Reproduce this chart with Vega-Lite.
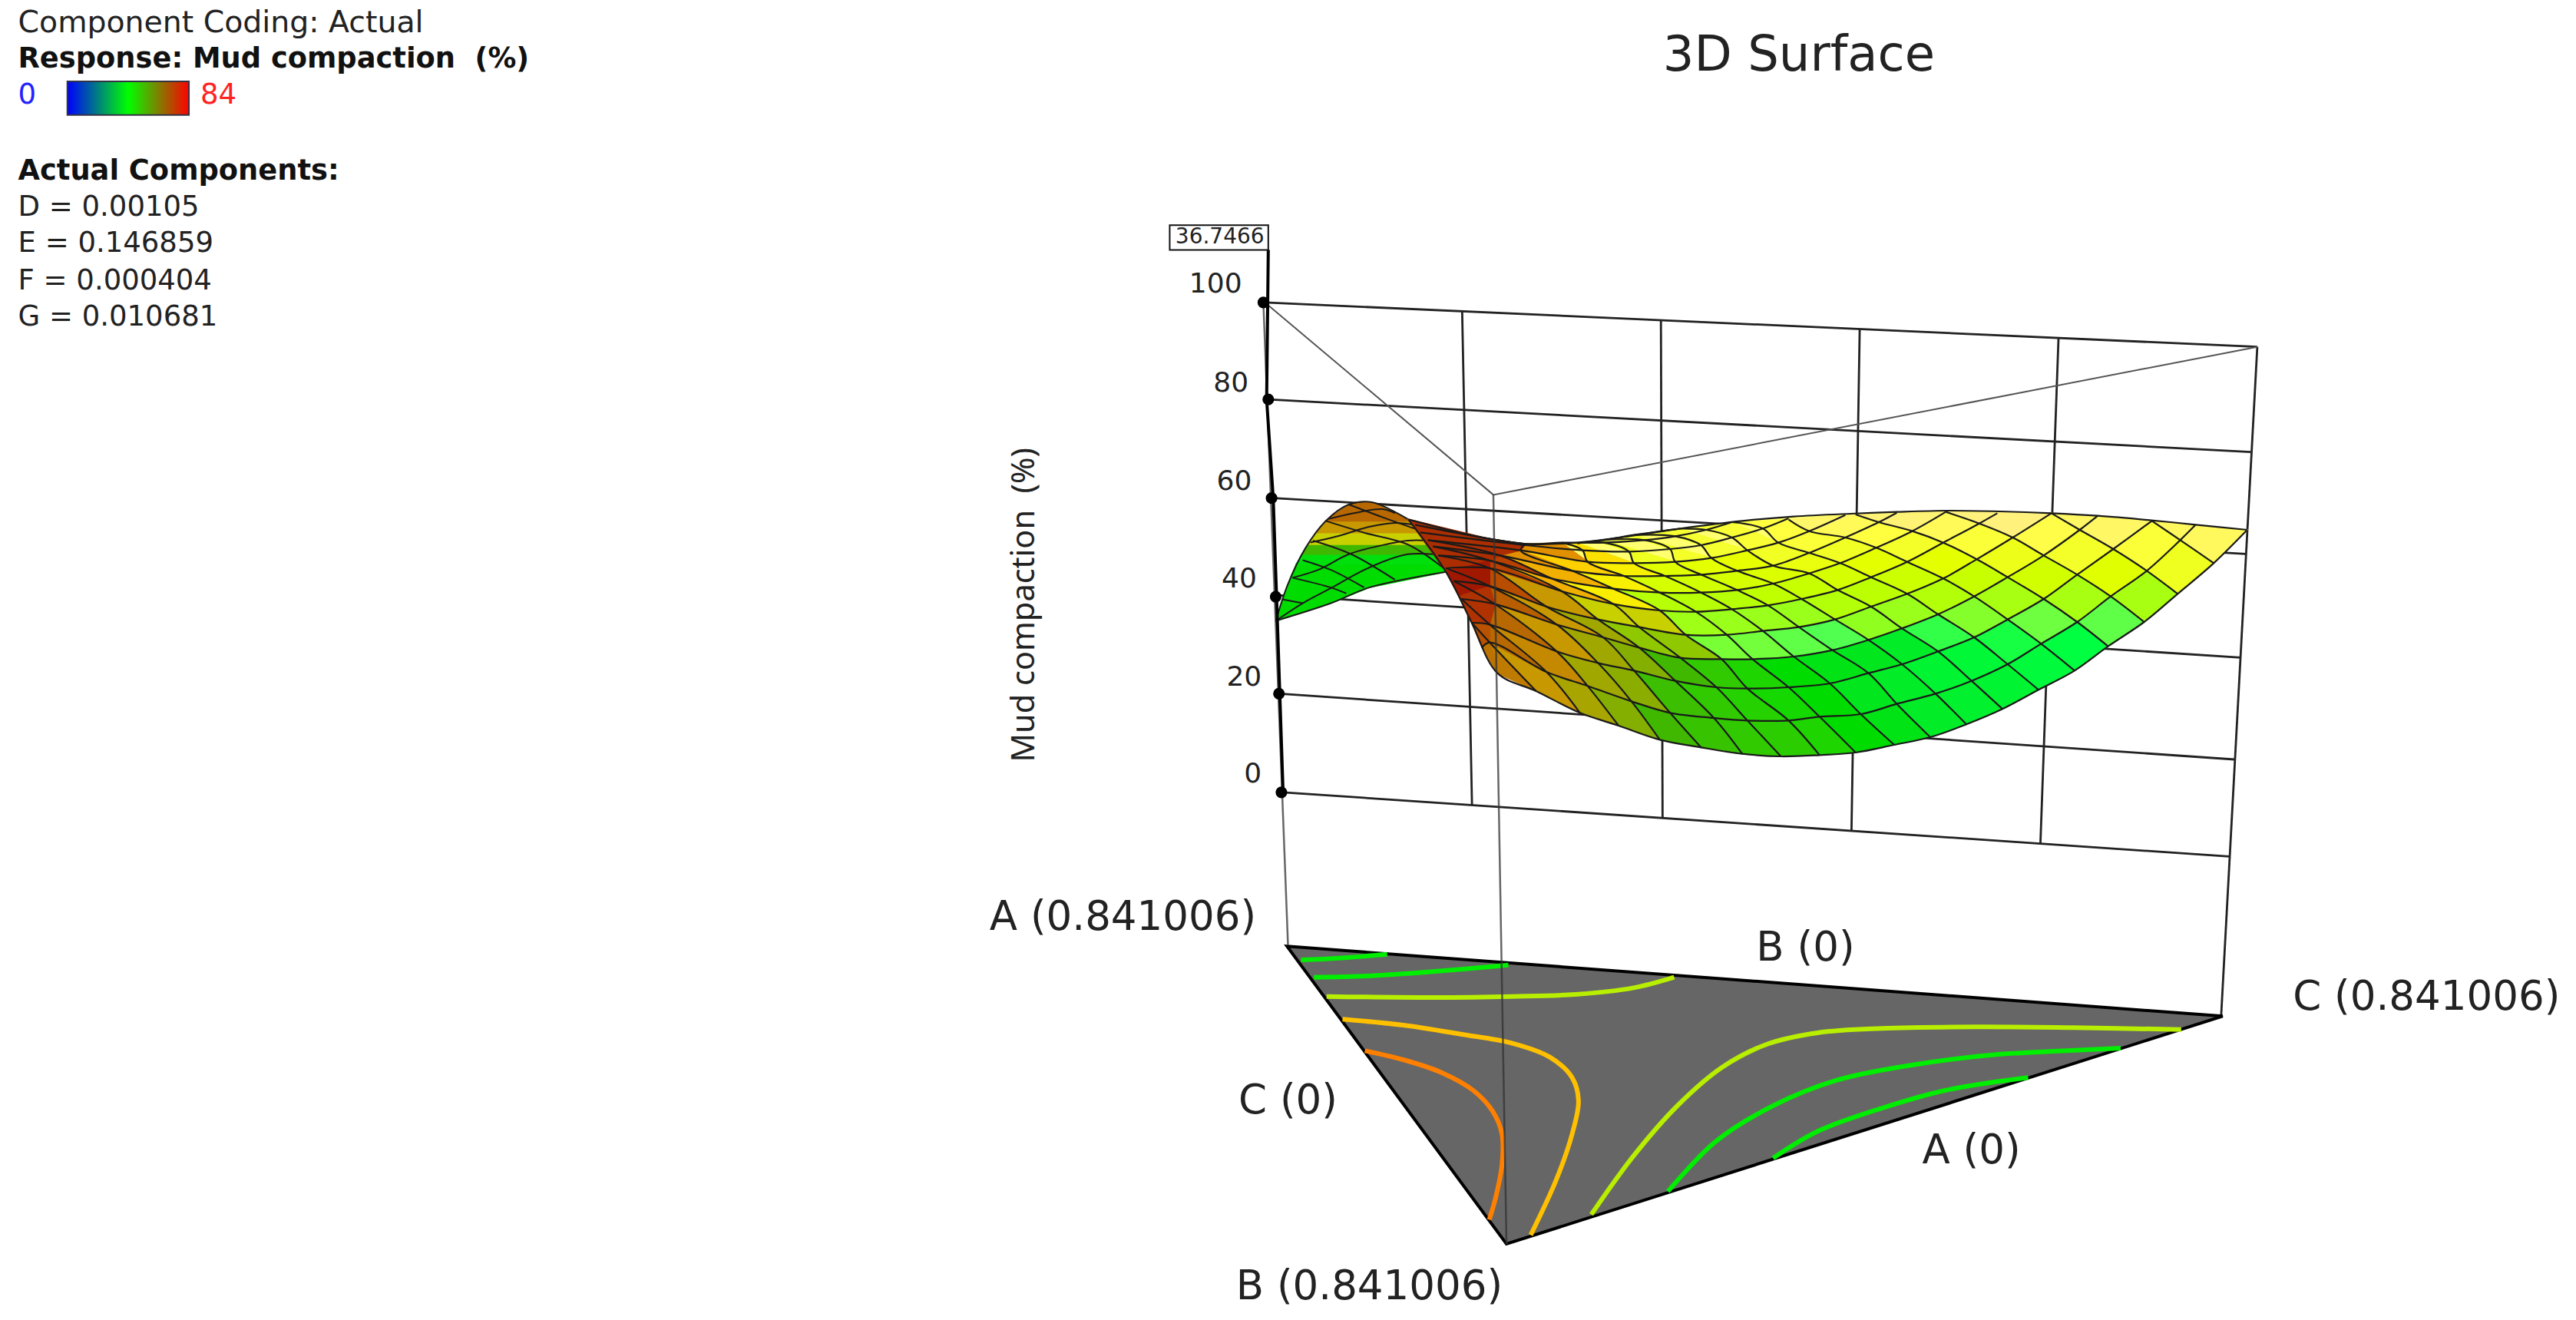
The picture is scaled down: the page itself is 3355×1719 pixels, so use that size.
{"$schema":"https://vega.github.io/schema/vega-lite/v6.json","width":3355,"height":1719,"padding":0,"autosize":{"type":"fit","contains":"padding"},"background":"white","config":{"view":{"stroke":null}},
"datasets":{
"quads":[
{"q":103,"x":1530,"y":270,"z":0.6},{"q":103,"x":1345,"y":235,"z":0.6},{"q":103,"x":1400,"y":310,"z":0.6},{"q":103,"x":1465,"y":400,"z":0.6},
{"q":100,"x":1465,"y":400,"z":1.7},{"q":100,"x":1400,"y":310,"z":1.7},{"q":100,"x":1335,"y":430,"z":1.7},{"q":100,"x":1395,"y":520,"z":1.7},
{"q":101,"x":1400,"y":310,"z":1.2},{"q":101,"x":1345,"y":235,"z":1.2},{"q":101,"x":1270,"y":345,"z":1.2},{"q":101,"x":1335,"y":430,"z":1.2},
{"q":102,"x":1345,"y":235,"z":0.5},{"q":102,"x":1150,"y":205,"z":0.5},{"q":102,"x":1205,"y":270,"z":0.5},{"q":102,"x":1270,"y":345,"z":0.5},
{"q":200,"x":1395,"y":520,"z":3.5},{"q":200,"x":1335,"y":430,"z":3.5},{"q":200,"x":1265,"y":530,"z":3.5},{"q":200,"x":1330,"y":630,"z":3.5},
{"q":201,"x":1335,"y":430,"z":2.2},{"q":201,"x":1270,"y":345,"z":2.2},{"q":201,"x":1200,"y":445,"z":2.2},{"q":201,"x":1265,"y":530,"z":2.2},
{"q":202,"x":1270,"y":345,"z":1.5},{"q":202,"x":1205,"y":270,"z":1.5},{"q":202,"x":1135,"y":370,"z":1.5},{"q":202,"x":1200,"y":445,"z":1.5},
{"q":203,"x":1205,"y":270,"z":0.9},{"q":203,"x":1150,"y":205,"z":0.9},{"q":203,"x":1075,"y":300,"z":0.9},{"q":203,"x":1135,"y":370,"z":0.9},
{"q":204,"x":1150,"y":205,"z":0.1},{"q":204,"x":945,"y":200,"z":0.1},{"q":204,"x":1010,"y":245,"z":0.1},{"q":204,"x":1075,"y":300,"z":0.1},
{"q":300,"x":1330,"y":630,"z":4.8},{"q":300,"x":1265,"y":530,"z":4.8},{"q":300,"x":1200,"y":630,"z":4.8},{"q":300,"x":1260,"y":725,"z":4.8},
{"q":301,"x":1265,"y":530,"z":3.5},{"q":301,"x":1200,"y":445,"z":3.5},{"q":301,"x":1135,"y":540,"z":3.5},{"q":301,"x":1200,"y":630,"z":3.5},
{"q":302,"x":1200,"y":445,"z":2.6},{"q":302,"x":1135,"y":370,"z":2.6},{"q":302,"x":1065,"y":455,"z":2.6},{"q":302,"x":1135,"y":540,"z":2.6},
{"q":303,"x":1135,"y":370,"z":1.8},{"q":303,"x":1075,"y":300,"z":1.8},{"q":303,"x":1005,"y":385,"z":1.8},{"q":303,"x":1065,"y":455,"z":1.8},
{"q":304,"x":1075,"y":300,"z":1.2},{"q":304,"x":1010,"y":245,"z":1.2},{"q":304,"x":940,"y":320,"z":1.2},{"q":304,"x":1005,"y":385,"z":1.2},
{"q":305,"x":1010,"y":245,"z":0.7},{"q":305,"x":945,"y":200,"z":0.7},{"q":305,"x":880,"y":275,"z":0.7},{"q":305,"x":940,"y":320,"z":0.7},
{"q":306,"x":945,"y":200,"z":0.2},{"q":306,"x":770,"y":210,"z":0.2},{"q":306,"x":815,"y":240,"z":0.2},{"q":306,"x":880,"y":275,"z":0.2},
{"q":400,"x":1260,"y":725,"z":6},{"q":400,"x":1200,"y":630,"z":6},{"q":400,"x":1130,"y":715,"z":6},{"q":400,"x":1195,"y":820,"z":6},
{"q":401,"x":1200,"y":630,"z":4.6},{"q":401,"x":1135,"y":540,"z":4.6},{"q":401,"x":1065,"y":620,"z":4.6},{"q":401,"x":1130,"y":715,"z":4.6},
{"q":402,"x":1135,"y":540,"z":3.5},{"q":402,"x":1065,"y":455,"z":3.5},{"q":402,"x":1000,"y":530,"z":3.5},{"q":402,"x":1065,"y":620,"z":3.5},
{"q":403,"x":1065,"y":455,"z":2.8},{"q":403,"x":1005,"y":385,"z":2.8},{"q":403,"x":940,"y":460,"z":2.8},{"q":403,"x":1000,"y":530,"z":2.8},
{"q":404,"x":1005,"y":385,"z":2.1},{"q":404,"x":940,"y":320,"z":2.1},{"q":404,"x":870,"y":395,"z":2.1},{"q":404,"x":940,"y":460,"z":2.1},
{"q":405,"x":940,"y":320,"z":1.5},{"q":405,"x":880,"y":275,"z":1.5},{"q":405,"x":810,"y":340,"z":1.5},{"q":405,"x":870,"y":395,"z":1.5},
{"q":406,"x":880,"y":275,"z":1},{"q":406,"x":815,"y":240,"z":1},{"q":406,"x":750,"y":300,"z":1},{"q":406,"x":810,"y":340,"z":1},
{"q":407,"x":815,"y":240,"z":0.7},{"q":407,"x":770,"y":210,"z":0.7},{"q":407,"x":680,"y":275,"z":0.7},{"q":407,"x":750,"y":300,"z":0.7},
{"q":408,"x":770,"y":210,"z":0.4},{"q":408,"x":640,"y":230,"z":0.4},{"q":408,"x":680,"y":275,"z":0.4},
{"q":500,"x":1195,"y":820,"z":6.1},{"q":500,"x":1130,"y":715,"z":6.1},{"q":500,"x":1065,"y":795,"z":6.1},{"q":500,"x":1125,"y":895,"z":6.1},
{"q":501,"x":1130,"y":715,"z":5.9},{"q":501,"x":1065,"y":620,"z":5.9},{"q":501,"x":1000,"y":690,"z":5.9},{"q":501,"x":1065,"y":795,"z":5.9},
{"q":502,"x":1065,"y":620,"z":4.2},{"q":502,"x":1000,"y":530,"z":4.2},{"q":502,"x":930,"y":600,"z":4.2},{"q":502,"x":1000,"y":690,"z":4.2},
{"q":503,"x":1000,"y":530,"z":3.3},{"q":503,"x":940,"y":460,"z":3.3},{"q":503,"x":870,"y":520,"z":3.3},{"q":503,"x":930,"y":600,"z":3.3},
{"q":504,"x":940,"y":460,"z":2.7},{"q":504,"x":870,"y":395,"z":2.7},{"q":504,"x":800,"y":455,"z":2.7},{"q":504,"x":870,"y":520,"z":2.7},
{"q":505,"x":870,"y":395,"z":2.1},{"q":505,"x":810,"y":340,"z":2.1},{"q":505,"x":740,"y":400,"z":2.1},{"q":505,"x":800,"y":455,"z":2.1},
{"q":506,"x":810,"y":340,"z":1.6},{"q":506,"x":750,"y":300,"z":1.6},{"q":506,"x":680,"y":360,"z":1.6},{"q":506,"x":740,"y":400,"z":1.6},
{"q":507,"x":750,"y":300,"z":1.2},{"q":507,"x":680,"y":275,"z":1.2},{"q":507,"x":620,"y":320,"z":1.2},{"q":507,"x":680,"y":360,"z":1.2},
{"q":508,"x":680,"y":275,"z":1},{"q":508,"x":640,"y":230,"z":1},{"q":508,"x":530,"y":240,"z":1},{"q":508,"x":590,"y":265,"z":1},{"q":508,"x":620,"y":320,"z":1},
{"q":600,"x":1125,"y":895,"z":6.3},{"q":600,"x":1065,"y":795,"z":6.3},{"q":600,"x":995,"y":860,"z":6.3},{"q":600,"x":1055,"y":970,"z":6.3},
{"q":601,"x":1065,"y":795,"z":6.2},{"q":601,"x":1000,"y":690,"z":6.2},{"q":601,"x":930,"y":745,"z":6.2},{"q":601,"x":995,"y":860,"z":6.2},
{"q":602,"x":1000,"y":690,"z":5.6},{"q":602,"x":930,"y":600,"z":5.6},{"q":602,"x":860,"y":655,"z":5.6},{"q":602,"x":930,"y":745,"z":5.6},
{"q":603,"x":930,"y":600,"z":3.8},{"q":603,"x":870,"y":520,"z":3.8},{"q":603,"x":800,"y":570,"z":3.8},{"q":603,"x":860,"y":655,"z":3.8},
{"q":604,"x":870,"y":520,"z":3.1},{"q":604,"x":800,"y":455,"z":3.1},{"q":604,"x":735,"y":505,"z":3.1},{"q":604,"x":800,"y":570,"z":3.1},
{"q":605,"x":800,"y":455,"z":2.5},{"q":605,"x":740,"y":400,"z":2.5},{"q":605,"x":680,"y":440,"z":2.5},{"q":605,"x":735,"y":505,"z":2.5},
{"q":606,"x":740,"y":400,"z":1.9},{"q":606,"x":680,"y":360,"z":1.9},{"q":606,"x":610,"y":410,"z":1.9},{"q":606,"x":680,"y":440,"z":1.9},
{"q":607,"x":680,"y":360,"z":1.6},{"q":607,"x":620,"y":320,"z":1.6},{"q":607,"x":560,"y":350,"z":1.6},{"q":607,"x":610,"y":410,"z":1.6},
{"q":608,"x":620,"y":320,"z":1.3},{"q":608,"x":530,"y":240,"z":1.3},{"q":608,"x":430,"y":265,"z":1.3},{"q":608,"x":480,"y":270,"z":1.3},{"q":608,"x":530,"y":300,"z":1.3},{"q":608,"x":560,"y":350,"z":1.3},
{"q":700,"x":1055,"y":970,"z":6.4},{"q":700,"x":995,"y":860,"z":6.4},{"q":700,"x":925,"y":910,"z":6.4},{"q":700,"x":985,"y":1030,"z":6.4},
{"q":701,"x":995,"y":860,"z":6.3},{"q":701,"x":930,"y":745,"z":6.3},{"q":701,"x":860,"y":795,"z":6.3},{"q":701,"x":925,"y":910,"z":6.3},
{"q":702,"x":930,"y":745,"z":6.5},{"q":702,"x":860,"y":655,"z":6.5},{"q":702,"x":795,"y":700,"z":6.5},{"q":702,"x":860,"y":795,"z":6.5},
{"q":703,"x":860,"y":655,"z":4},{"q":703,"x":800,"y":570,"z":4},{"q":703,"x":730,"y":620,"z":4},{"q":703,"x":795,"y":700,"z":4},
{"q":704,"x":800,"y":570,"z":3.3},{"q":704,"x":735,"y":505,"z":3.3},{"q":704,"x":665,"y":540,"z":3.3},{"q":704,"x":730,"y":620,"z":3.3},
{"q":705,"x":735,"y":505,"z":2.8},{"q":705,"x":680,"y":440,"z":2.8},{"q":705,"x":610,"y":480,"z":2.8},{"q":705,"x":665,"y":540,"z":2.8},
{"q":706,"x":680,"y":440,"z":2.3},{"q":706,"x":610,"y":410,"z":2.3},{"q":706,"x":540,"y":430,"z":2.3},{"q":706,"x":610,"y":480,"z":2.3},
{"q":707,"x":610,"y":410,"z":2},{"q":707,"x":560,"y":350,"z":2},{"q":707,"x":490,"y":380,"z":2},{"q":707,"x":540,"y":430,"z":2},
{"q":708,"x":560,"y":350,"z":1.4},{"q":708,"x":430,"y":265,"z":1.4},{"q":708,"x":340,"y":290,"z":1.4},{"q":708,"x":420,"y":295,"z":1.4},{"q":708,"x":470,"y":330,"z":1.4},{"q":708,"x":490,"y":380,"z":1.4},
{"q":800,"x":985,"y":1030,"z":6.5},{"q":800,"x":925,"y":910,"z":6.5},{"q":800,"x":850,"y":950,"z":6.5},{"q":800,"x":915,"y":1080,"z":6.5},
{"q":801,"x":925,"y":910,"z":6.5},{"q":801,"x":860,"y":795,"z":6.5},{"q":801,"x":795,"y":830,"z":6.5},{"q":801,"x":850,"y":950,"z":6.5},
{"q":802,"x":860,"y":795,"z":6.7},{"q":802,"x":795,"y":700,"z":6.7},{"q":802,"x":725,"y":740,"z":6.7},{"q":802,"x":795,"y":830,"z":6.7},
{"q":803,"x":795,"y":700,"z":5},{"q":803,"x":730,"y":620,"z":5},{"q":803,"x":660,"y":650,"z":5},{"q":803,"x":725,"y":740,"z":5},
{"q":804,"x":730,"y":620,"z":3.8},{"q":804,"x":665,"y":540,"z":3.8},{"q":804,"x":600,"y":565,"z":3.8},{"q":804,"x":660,"y":650,"z":3.8},
{"q":805,"x":665,"y":540,"z":3},{"q":805,"x":610,"y":480,"z":3},{"q":805,"x":540,"y":505,"z":3},{"q":805,"x":600,"y":565,"z":3},
{"q":806,"x":610,"y":480,"z":2.5},{"q":806,"x":540,"y":430,"z":2.5},{"q":806,"x":470,"y":445,"z":2.5},{"q":806,"x":540,"y":505,"z":2.5},
{"q":807,"x":540,"y":430,"z":2.1},{"q":807,"x":490,"y":380,"z":2.1},{"q":807,"x":420,"y":395,"z":2.1},{"q":807,"x":470,"y":445,"z":2.1},
{"q":808,"x":490,"y":380,"z":1.5},{"q":808,"x":340,"y":290,"z":1.5},{"q":808,"x":280,"y":310,"z":1.5},{"q":808,"x":360,"y":310,"z":1.5},{"q":808,"x":410,"y":345,"z":1.5},{"q":808,"x":420,"y":395,"z":1.5},
{"q":900,"x":915,"y":1080,"z":6.8},{"q":900,"x":850,"y":950,"z":6.8},{"q":900,"x":780,"y":990,"z":6.8},{"q":900,"x":845,"y":1110,"z":6.8},
{"q":901,"x":850,"y":950,"z":6.7},{"q":901,"x":795,"y":830,"z":6.7},{"q":901,"x":720,"y":870,"z":6.7},{"q":901,"x":780,"y":990,"z":6.7},
{"q":902,"x":795,"y":830,"z":6.8},{"q":902,"x":725,"y":740,"z":6.8},{"q":902,"x":650,"y":765,"z":6.8},{"q":902,"x":720,"y":870,"z":6.8},
{"q":903,"x":725,"y":740,"z":4.8},{"q":903,"x":660,"y":650,"z":4.8},{"q":903,"x":590,"y":665,"z":4.8},{"q":903,"x":650,"y":765,"z":4.8},
{"q":904,"x":660,"y":650,"z":3.8},{"q":904,"x":600,"y":565,"z":3.8},{"q":904,"x":530,"y":580,"z":3.8},{"q":904,"x":590,"y":665,"z":3.8},
{"q":905,"x":600,"y":565,"z":3.2},{"q":905,"x":540,"y":505,"z":3.2},{"q":905,"x":470,"y":515,"z":3.2},{"q":905,"x":530,"y":580,"z":3.2},
{"q":906,"x":540,"y":505,"z":2.6},{"q":906,"x":470,"y":445,"z":2.6},{"q":906,"x":400,"y":450,"z":2.6},{"q":906,"x":470,"y":515,"z":2.6},
{"q":907,"x":470,"y":445,"z":2.2},{"q":907,"x":420,"y":395,"z":2.2},{"q":907,"x":340,"y":400,"z":2.2},{"q":907,"x":400,"y":450,"z":2.2},
{"q":908,"x":420,"y":395,"z":1.7},{"q":908,"x":280,"y":310,"z":1.7},{"q":908,"x":230,"y":322,"z":1.7},{"q":908,"x":280,"y":320,"z":1.7},{"q":908,"x":330,"y":355,"z":1.7},{"q":908,"x":340,"y":400,"z":1.7},
{"q":1000,"x":845,"y":1110,"z":7},{"q":1000,"x":780,"y":990,"z":7},{"q":1000,"x":700,"y":1000,"z":7},{"q":1000,"x":770,"y":1140,"z":7},
{"q":1001,"x":780,"y":990,"z":7},{"q":1001,"x":720,"y":870,"z":7},{"q":1001,"x":640,"y":885,"z":7},{"q":1001,"x":700,"y":1000,"z":7},
{"q":1002,"x":720,"y":870,"z":7},{"q":1002,"x":650,"y":765,"z":7},{"q":1002,"x":570,"y":775,"z":7},{"q":1002,"x":640,"y":885,"z":7},
{"q":1003,"x":650,"y":765,"z":4.5},{"q":1003,"x":590,"y":665,"z":4.5},{"q":1003,"x":520,"y":680,"z":4.5},{"q":1003,"x":570,"y":775,"z":4.5},
{"q":1004,"x":590,"y":665,"z":3.8},{"q":1004,"x":530,"y":580,"z":3.8},{"q":1004,"x":460,"y":590,"z":3.8},{"q":1004,"x":520,"y":680,"z":3.8},
{"q":1005,"x":530,"y":580,"z":3.2},{"q":1005,"x":470,"y":515,"z":3.2},{"q":1005,"x":390,"y":515,"z":3.2},{"q":1005,"x":460,"y":590,"z":3.2},
{"q":1006,"x":470,"y":515,"z":2.5},{"q":1006,"x":400,"y":450,"z":2.5},{"q":1006,"x":320,"y":450,"z":2.5},{"q":1006,"x":390,"y":515,"z":2.5},
{"q":1007,"x":400,"y":450,"z":16},{"q":1007,"x":340,"y":400,"z":16},{"q":1007,"x":250,"y":395,"z":16},{"q":1007,"x":320,"y":450,"z":16},
{"q":1008,"x":340,"y":400,"z":15.5},{"q":1008,"x":230,"y":322,"z":15.5},{"q":1008,"x":200,"y":320,"z":15.5},{"q":1008,"x":240,"y":350,"z":15.5},{"q":1008,"x":250,"y":395,"z":15.5},
{"q":1100,"x":770,"y":1140,"z":7.2},{"q":1100,"x":700,"y":1000,"z":7.2},{"q":1100,"x":640,"y":1015,"z":7.2},{"q":1100,"x":700,"y":1150,"z":7.2},
{"q":1101,"x":700,"y":1000,"z":7.1},{"q":1101,"x":640,"y":885,"z":7.1},{"q":1101,"x":560,"y":890,"z":7.1},{"q":1101,"x":640,"y":1015,"z":7.1},
{"q":1102,"x":640,"y":885,"z":7.2},{"q":1102,"x":570,"y":775,"z":7.2},{"q":1102,"x":510,"y":775,"z":7.2},{"q":1102,"x":560,"y":890,"z":7.2},
{"q":1103,"x":570,"y":775,"z":4.4},{"q":1103,"x":520,"y":680,"z":4.4},{"q":1103,"x":440,"y":680,"z":4.4},{"q":1103,"x":510,"y":775,"z":4.4},
{"q":1104,"x":520,"y":680,"z":3.7},{"q":1104,"x":460,"y":590,"z":3.7},{"q":1104,"x":390,"y":585,"z":3.7},{"q":1104,"x":440,"y":680,"z":3.7},
{"q":1105,"x":460,"y":590,"z":3.2},{"q":1105,"x":390,"y":515,"z":3.2},{"q":1105,"x":300,"y":500,"z":3.2},{"q":1105,"x":390,"y":585,"z":3.2},
{"q":1106,"x":390,"y":515,"z":16},{"q":1106,"x":320,"y":450,"z":16},{"q":1106,"x":220,"y":430,"z":16},{"q":1106,"x":300,"y":500,"z":16},
{"q":1107,"x":320,"y":450,"z":15},{"q":1107,"x":250,"y":395,"z":15},{"q":1107,"x":120,"y":350,"z":15},{"q":1107,"x":220,"y":430,"z":15},
{"q":1108,"x":250,"y":395,"z":14},{"q":1108,"x":200,"y":320,"z":14},{"q":1108,"x":130,"y":325,"z":14},{"q":1108,"x":120,"y":350,"z":14},
{"q":1200,"x":700,"y":1150,"z":7.4},{"q":1200,"x":640,"y":1015,"z":7.4},{"q":1200,"x":560,"y":1015,"z":7.4},{"q":1200,"x":625,"y":1155,"z":7.4},
{"q":1201,"x":640,"y":1015,"z":7.3},{"q":1201,"x":560,"y":890,"z":7.3},{"q":1201,"x":500,"y":885,"z":7.3},{"q":1201,"x":560,"y":1015,"z":7.3},
{"q":1202,"x":560,"y":890,"z":7.5},{"q":1202,"x":510,"y":775,"z":7.5},{"q":1202,"x":430,"y":770,"z":7.5},{"q":1202,"x":500,"y":885,"z":7.5},
{"q":1203,"x":510,"y":775,"z":17},{"q":1203,"x":440,"y":680,"z":17},{"q":1203,"x":350,"y":650,"z":17},{"q":1203,"x":430,"y":770,"z":17},
{"q":1204,"x":440,"y":680,"z":18},{"q":1204,"x":390,"y":585,"z":18},{"q":1204,"x":300,"y":560,"z":18},{"q":1204,"x":350,"y":650,"z":18},
{"q":1205,"x":390,"y":585,"z":15.9},{"q":1205,"x":300,"y":500,"z":15.9},{"q":1205,"x":180,"y":460,"z":15.9},{"q":1205,"x":300,"y":560,"z":15.9},
{"q":1206,"x":300,"y":500,"z":14.5},{"q":1206,"x":220,"y":430,"z":14.5},{"q":1206,"x":80,"y":370,"z":14.5},{"q":1206,"x":180,"y":460,"z":14.5},
{"q":1207,"x":220,"y":430,"z":14},{"q":1207,"x":120,"y":350,"z":14},{"q":1207,"x":80,"y":370,"z":14},
{"q":1300,"x":625,"y":1155,"z":7.5},{"q":1300,"x":560,"y":1015,"z":7.5},{"q":1300,"x":495,"y":1005,"z":7.5},{"q":1300,"x":550,"y":1145,"z":7.5},
{"q":1301,"x":560,"y":1015,"z":7.5},{"q":1301,"x":500,"y":885,"z":7.5},{"q":1301,"x":420,"y":860,"z":7.5},{"q":1301,"x":495,"y":1005,"z":7.5},
{"q":1302,"x":500,"y":885,"z":8},{"q":1302,"x":430,"y":770,"z":8},{"q":1302,"x":350,"y":730,"z":8},{"q":1302,"x":420,"y":860,"z":8},
{"q":1303,"x":430,"y":770,"z":17},{"q":1303,"x":350,"y":650,"z":17},{"q":1303,"x":270,"y":620,"z":17},{"q":1303,"x":350,"y":730,"z":17},
{"q":1304,"x":350,"y":650,"z":18},{"q":1304,"x":300,"y":560,"z":18},{"q":1304,"x":200,"y":510,"z":18},{"q":1304,"x":270,"y":620,"z":18},
{"q":1305,"x":300,"y":560,"z":14.5},{"q":1305,"x":180,"y":460,"z":14.5},{"q":1305,"x":60,"y":390,"z":14.5},{"q":1305,"x":200,"y":510,"z":14.5},
{"q":1306,"x":180,"y":460,"z":12},{"q":1306,"x":80,"y":370,"z":12},{"q":1306,"x":60,"y":390,"z":12},
{"q":1400,"x":550,"y":1145,"z":7.7},{"q":1400,"x":495,"y":1005,"z":7.7},{"q":1400,"x":410,"y":985,"z":7.7},{"q":1400,"x":470,"y":1120,"z":7.7},
{"q":1401,"x":495,"y":1005,"z":7.8},{"q":1401,"x":420,"y":860,"z":7.8},{"q":1401,"x":340,"y":820,"z":7.8},{"q":1401,"x":410,"y":985,"z":7.8},
{"q":1402,"x":420,"y":860,"z":8.6},{"q":1402,"x":350,"y":730,"z":8.6},{"q":1402,"x":280,"y":690,"z":8.6},{"q":1402,"x":340,"y":820,"z":8.6},
{"q":1403,"x":350,"y":730,"z":9},{"q":1403,"x":270,"y":620,"z":9},{"q":1403,"x":170,"y":570,"z":9},{"q":1403,"x":280,"y":690,"z":9},
{"q":1404,"x":270,"y":620,"z":10},{"q":1404,"x":200,"y":510,"z":10},{"q":1404,"x":60,"y":420,"z":10},{"q":1404,"x":170,"y":570,"z":10},
{"q":1405,"x":200,"y":510,"z":12},{"q":1405,"x":60,"y":390,"z":12},{"q":1405,"x":60,"y":420,"z":12},
{"q":1500,"x":470,"y":1120,"z":8},{"q":1500,"x":410,"y":985,"z":8},{"q":1500,"x":335,"y":940,"z":8},{"q":1500,"x":390,"y":1090,"z":8},
{"q":1501,"x":410,"y":985,"z":8.7},{"q":1501,"x":340,"y":820,"z":8.7},{"q":1501,"x":270,"y":790,"z":8.7},{"q":1501,"x":335,"y":940,"z":8.7},
{"q":1502,"x":340,"y":820,"z":9},{"q":1502,"x":280,"y":690,"z":9},{"q":1502,"x":190,"y":640,"z":9},{"q":1502,"x":270,"y":790,"z":9},
{"q":1503,"x":280,"y":690,"z":10},{"q":1503,"x":170,"y":570,"z":10},{"q":1503,"x":60,"y":490,"z":10},{"q":1503,"x":190,"y":640,"z":10},
{"q":1504,"x":170,"y":570,"z":11.7},{"q":1504,"x":60,"y":420,"z":11.7},{"q":1504,"x":60,"y":490,"z":11.7},
{"q":1600,"x":390,"y":1090,"z":8.6},{"q":1600,"x":335,"y":940,"z":8.6},{"q":1600,"x":250,"y":880,"z":8.6},{"q":1600,"x":310,"y":1035,"z":8.6},
{"q":1601,"x":335,"y":940,"z":9},{"q":1601,"x":270,"y":790,"z":9},{"q":1601,"x":190,"y":745,"z":9},{"q":1601,"x":250,"y":880,"z":9},
{"q":1602,"x":270,"y":790,"z":10},{"q":1602,"x":190,"y":640,"z":10},{"q":1602,"x":70,"y":560,"z":10},{"q":1602,"x":190,"y":745,"z":10},
{"q":1603,"x":190,"y":640,"z":11.3},{"q":1603,"x":60,"y":490,"z":11.3},{"q":1603,"x":70,"y":560,"z":11.3},
{"q":1700,"x":310,"y":1035,"z":9.2},{"q":1700,"x":250,"y":880,"z":9.2},{"q":1700,"x":170,"y":825,"z":9.2},{"q":1700,"x":235,"y":985,"z":9.2},
{"q":1701,"x":250,"y":880,"z":10.3},{"q":1701,"x":190,"y":745,"z":10.3},{"q":1701,"x":60,"y":640,"z":10.3},{"q":1701,"x":170,"y":825,"z":10.3},
{"q":1702,"x":190,"y":745,"z":11},{"q":1702,"x":70,"y":560,"z":11},{"q":1702,"x":60,"y":640,"z":11},
{"q":1800,"x":235,"y":985,"z":10},{"q":1800,"x":170,"y":825,"z":10},{"q":1800,"x":60,"y":710,"z":10},{"q":1800,"x":150,"y":900,"z":10},
{"q":1801,"x":170,"y":825,"z":11},{"q":1801,"x":60,"y":640,"z":11},{"q":1801,"x":60,"y":710,"z":11},
{"q":1900,"x":150,"y":900,"z":10.6},{"q":1900,"x":60,"y":710,"z":10.6},{"q":1900,"x":75,"y":830,"z":10.6},
{"q":2001,"x":-98,"y":229,"z":12.5},{"q":2001,"x":60,"y":305,"z":12.5},{"q":2001,"x":130,"y":325,"z":12.5},{"q":2001,"x":120,"y":350,"z":12.5},{"q":2001,"x":80,"y":370,"z":12.5},{"q":2001,"x":60,"y":390,"z":12.5},{"q":2001,"x":-25,"y":434,"z":12.5},
{"q":2002,"x":-25,"y":434,"z":13},{"q":2002,"x":60,"y":390,"z":13},{"q":2002,"x":60,"y":420,"z":13},{"q":2002,"x":60,"y":490,"z":13},{"q":2002,"x":0,"y":530,"z":13},
{"q":2003,"x":0,"y":530,"z":12.4},{"q":2003,"x":60,"y":490,"z":12.4},{"q":2003,"x":70,"y":560,"z":12.4},{"q":2003,"x":60,"y":640,"z":12.4},{"q":2003,"x":25,"y":633,"z":12.4},
{"q":2004,"x":25,"y":633,"z":11.6},{"q":2004,"x":60,"y":640,"z":11.6},{"q":2004,"x":60,"y":710,"z":11.6},{"q":2004,"x":45,"y":730,"z":11.6},
{"q":2005,"x":45,"y":730,"z":10.8},{"q":2005,"x":60,"y":710,"z":10.8},{"q":2005,"x":75,"y":830,"z":10.8}
],
"underlay":[{"x":-98,"y":229},{"x":0,"y":280},{"x":60,"y":305},{"x":130,"y":325},{"x":230,"y":320},{"x":330,"y":295},{"x":430,"y":265},{"x":550,"y":235},{"x":650,"y":218},{"x":760,"y":207},{"x":850,"y":200},{"x":950,"y":195},{"x":1050,"y":198},{"x":1150,"y":205},{"x":1240,"y":215},{"x":1340,"y":232},{"x":1430,"y":250},{"x":1530,"y":270},{"x":1465,"y":400},{"x":1400,"y":310},{"x":1135,"y":370},{"x":800,"y":455},{"x":400,"y":450},{"x":60,"y":420}],
"mesh":[
{"l":"A1","x":45,"y":730},{"l":"A1","x":60,"y":710},{"l":"A1","x":170,"y":825},{"l":"A1","x":250,"y":880},{"l":"A1","x":335,"y":940},{"l":"A1","x":410,"y":985},{"l":"A1","x":495,"y":1005},{"l":"A1","x":560,"y":1015},{"l":"A1","x":640,"y":1015},{"l":"A1","x":700,"y":1000},{"l":"A1","x":780,"y":990},{"l":"A1","x":850,"y":950},{"l":"A1","x":925,"y":910},{"l":"A1","x":995,"y":860},{"l":"A1","x":1065,"y":795},{"l":"A1","x":1130,"y":715},{"l":"A1","x":1200,"y":630},{"l":"A1","x":1265,"y":530},{"l":"A1","x":1335,"y":430},{"l":"A1","x":1400,"y":310},{"l":"A1","x":1430,"y":250},
{"l":"A2","x":25,"y":633},{"l":"A2","x":60,"y":640},{"l":"A2","x":190,"y":745},{"l":"A2","x":270,"y":790},{"l":"A2","x":340,"y":820},{"l":"A2","x":420,"y":860},{"l":"A2","x":500,"y":885},{"l":"A2","x":560,"y":890},{"l":"A2","x":640,"y":885},{"l":"A2","x":720,"y":870},{"l":"A2","x":795,"y":830},{"l":"A2","x":860,"y":795},{"l":"A2","x":930,"y":745},{"l":"A2","x":1000,"y":690},{"l":"A2","x":1065,"y":620},{"l":"A2","x":1135,"y":540},{"l":"A2","x":1200,"y":445},{"l":"A2","x":1270,"y":345},{"l":"A2","x":1345,"y":235},
{"l":"A3","x":5,"y":540},{"l":"A3","x":70,"y":560},{"l":"A3","x":190,"y":640},{"l":"A3","x":280,"y":690},{"l":"A3","x":350,"y":730},{"l":"A3","x":430,"y":770},{"l":"A3","x":510,"y":775},{"l":"A3","x":570,"y":775},{"l":"A3","x":650,"y":765},{"l":"A3","x":725,"y":740},{"l":"A3","x":795,"y":700},{"l":"A3","x":860,"y":655},{"l":"A3","x":930,"y":600},{"l":"A3","x":1000,"y":530},{"l":"A3","x":1065,"y":455},{"l":"A3","x":1135,"y":370},{"l":"A3","x":1205,"y":270},{"l":"A3","x":1240,"y":215},
{"l":"A4","x":-10,"y":470},{"l":"A4","x":60,"y":490},{"l":"A4","x":170,"y":570},{"l":"A4","x":270,"y":620},{"l":"A4","x":350,"y":650},{"l":"A4","x":440,"y":680},{"l":"A4","x":520,"y":680},{"l":"A4","x":590,"y":665},{"l":"A4","x":660,"y":650},{"l":"A4","x":730,"y":620},{"l":"A4","x":800,"y":570},{"l":"A4","x":870,"y":520},{"l":"A4","x":940,"y":460},{"l":"A4","x":1005,"y":385},{"l":"A4","x":1075,"y":300},{"l":"A4","x":1150,"y":205},
{"l":"A5","x":-25,"y":420},{"l":"A5","x":60,"y":420},{"l":"A5","x":200,"y":510},{"l":"A5","x":300,"y":560},{"l":"A5","x":390,"y":585},{"l":"A5","x":460,"y":590},{"l":"A5","x":530,"y":580},{"l":"A5","x":600,"y":565},{"l":"A5","x":665,"y":540},{"l":"A5","x":735,"y":505},{"l":"A5","x":800,"y":455},{"l":"A5","x":870,"y":395},{"l":"A5","x":940,"y":320},{"l":"A5","x":1010,"y":245},{"l":"A5","x":1045,"y":205},
{"l":"A6","x":-40,"y":370},{"l":"A6","x":60,"y":390},{"l":"A6","x":180,"y":460},{"l":"A6","x":300,"y":500},{"l":"A6","x":390,"y":515},{"l":"A6","x":470,"y":515},{"l":"A6","x":540,"y":505},{"l":"A6","x":610,"y":480},{"l":"A6","x":680,"y":440},{"l":"A6","x":740,"y":400},{"l":"A6","x":810,"y":340},{"l":"A6","x":880,"y":275},{"l":"A6","x":945,"y":200},
{"l":"A7","x":-50,"y":335},{"l":"A7","x":80,"y":370},{"l":"A7","x":220,"y":430},{"l":"A7","x":320,"y":450},{"l":"A7","x":400,"y":450},{"l":"A7","x":470,"y":445},{"l":"A7","x":540,"y":430},{"l":"A7","x":610,"y":410},{"l":"A7","x":680,"y":360},{"l":"A7","x":750,"y":300},{"l":"A7","x":815,"y":240},{"l":"A7","x":850,"y":203},
{"l":"A8","x":-60,"y":310},{"l":"A8","x":120,"y":350},{"l":"A8","x":250,"y":395},{"l":"A8","x":340,"y":400},{"l":"A8","x":420,"y":395},{"l":"A8","x":490,"y":380},{"l":"A8","x":560,"y":350},{"l":"A8","x":620,"y":320},{"l":"A8","x":680,"y":275},{"l":"A8","x":750,"y":212},
{"l":"A9","x":-75,"y":280},{"l":"A9","x":130,"y":330},{"l":"A9","x":240,"y":350},{"l":"A9","x":330,"y":355},{"l":"A9","x":410,"y":345},{"l":"A9","x":470,"y":330},{"l":"A9","x":530,"y":300},{"l":"A9","x":590,"y":265},{"l":"A9","x":640,"y":225},
{"l":"A10","x":-85,"y":250},{"l":"A10","x":130,"y":325},{"l":"A10","x":200,"y":320},{"l":"A10","x":280,"y":320},{"l":"A10","x":360,"y":310},{"l":"A10","x":420,"y":295},{"l":"A10","x":480,"y":270},{"l":"A10","x":530,"y":240},
{"l":"A11","x":230,"y":322},{"l":"A11","x":280,"y":310},{"l":"A11","x":340,"y":290},{"l":"A11","x":430,"y":265},
{"l":"B1","x":1345,"y":235},{"l":"B1","x":1400,"y":310},{"l":"B1","x":1465,"y":400},
{"l":"B2","x":1150,"y":205},{"l":"B2","x":1205,"y":270},{"l":"B2","x":1270,"y":345},{"l":"B2","x":1335,"y":430},{"l":"B2","x":1395,"y":520},
{"l":"B3","x":945,"y":200},{"l":"B3","x":1010,"y":245},{"l":"B3","x":1075,"y":300},{"l":"B3","x":1135,"y":370},{"l":"B3","x":1200,"y":445},{"l":"B3","x":1265,"y":530},{"l":"B3","x":1330,"y":630},
{"l":"B4","x":770,"y":210},{"l":"B4","x":815,"y":240},{"l":"B4","x":880,"y":275},{"l":"B4","x":940,"y":320},{"l":"B4","x":1005,"y":385},{"l":"B4","x":1065,"y":455},{"l":"B4","x":1135,"y":540},{"l":"B4","x":1200,"y":630},{"l":"B4","x":1260,"y":725},
{"l":"B5","x":640,"y":230},{"l":"B5","x":680,"y":275},{"l":"B5","x":750,"y":300},{"l":"B5","x":810,"y":340},{"l":"B5","x":870,"y":395},{"l":"B5","x":940,"y":460},{"l":"B5","x":1000,"y":530},{"l":"B5","x":1065,"y":620},{"l":"B5","x":1130,"y":715},{"l":"B5","x":1195,"y":820},
{"l":"B6","x":530,"y":240},{"l":"B6","x":590,"y":265},{"l":"B6","x":620,"y":320},{"l":"B6","x":680,"y":360},{"l":"B6","x":740,"y":400},{"l":"B6","x":800,"y":455},{"l":"B6","x":870,"y":520},{"l":"B6","x":930,"y":600},{"l":"B6","x":1000,"y":690},{"l":"B6","x":1065,"y":795},{"l":"B6","x":1125,"y":895},
{"l":"B7","x":430,"y":265},{"l":"B7","x":480,"y":270},{"l":"B7","x":530,"y":300},{"l":"B7","x":560,"y":350},{"l":"B7","x":610,"y":410},{"l":"B7","x":680,"y":440},{"l":"B7","x":735,"y":505},{"l":"B7","x":800,"y":570},{"l":"B7","x":860,"y":655},{"l":"B7","x":930,"y":745},{"l":"B7","x":995,"y":860},{"l":"B7","x":1055,"y":970},
{"l":"B8","x":340,"y":290},{"l":"B8","x":420,"y":295},{"l":"B8","x":470,"y":330},{"l":"B8","x":490,"y":380},{"l":"B8","x":540,"y":430},{"l":"B8","x":610,"y":480},{"l":"B8","x":665,"y":540},{"l":"B8","x":730,"y":620},{"l":"B8","x":795,"y":700},{"l":"B8","x":860,"y":795},{"l":"B8","x":925,"y":910},{"l":"B8","x":985,"y":1030},
{"l":"B9","x":280,"y":310},{"l":"B9","x":360,"y":310},{"l":"B9","x":410,"y":345},{"l":"B9","x":420,"y":395},{"l":"B9","x":470,"y":445},{"l":"B9","x":540,"y":505},{"l":"B9","x":600,"y":565},{"l":"B9","x":660,"y":650},{"l":"B9","x":725,"y":740},{"l":"B9","x":795,"y":830},{"l":"B9","x":850,"y":950},{"l":"B9","x":915,"y":1080},
{"l":"B10","x":230,"y":322},{"l":"B10","x":280,"y":320},{"l":"B10","x":330,"y":355},{"l":"B10","x":340,"y":400},{"l":"B10","x":400,"y":450},{"l":"B10","x":470,"y":515},{"l":"B10","x":530,"y":580},{"l":"B10","x":590,"y":665},{"l":"B10","x":650,"y":765},{"l":"B10","x":720,"y":870},{"l":"B10","x":780,"y":990},{"l":"B10","x":845,"y":1110},
{"l":"B11","x":200,"y":320},{"l":"B11","x":240,"y":350},{"l":"B11","x":250,"y":395},{"l":"B11","x":320,"y":450},{"l":"B11","x":390,"y":515},{"l":"B11","x":460,"y":590},{"l":"B11","x":520,"y":680},{"l":"B11","x":570,"y":775},{"l":"B11","x":640,"y":885},{"l":"B11","x":700,"y":1000},{"l":"B11","x":770,"y":1140},
{"l":"B12","x":130,"y":325},{"l":"B12","x":120,"y":350},{"l":"B12","x":220,"y":430},{"l":"B12","x":300,"y":500},{"l":"B12","x":390,"y":585},{"l":"B12","x":440,"y":680},{"l":"B12","x":510,"y":775},{"l":"B12","x":560,"y":890},{"l":"B12","x":640,"y":1015},{"l":"B12","x":700,"y":1150},
{"l":"B13","x":-60,"y":310},{"l":"B13","x":80,"y":370},{"l":"B13","x":180,"y":460},{"l":"B13","x":300,"y":560},{"l":"B13","x":350,"y":650},{"l":"B13","x":430,"y":770},{"l":"B13","x":500,"y":885},{"l":"B13","x":560,"y":1015},{"l":"B13","x":625,"y":1155},
{"l":"B14","x":-50,"y":335},{"l":"B14","x":60,"y":390},{"l":"B14","x":200,"y":510},{"l":"B14","x":270,"y":620},{"l":"B14","x":350,"y":730},{"l":"B14","x":420,"y":860},{"l":"B14","x":495,"y":1005},{"l":"B14","x":550,"y":1145},
{"l":"B15","x":-40,"y":370},{"l":"B15","x":60,"y":420},{"l":"B15","x":170,"y":570},{"l":"B15","x":280,"y":690},{"l":"B15","x":340,"y":820},{"l":"B15","x":410,"y":985},{"l":"B15","x":470,"y":1120},
{"l":"B16","x":-25,"y":420},{"l":"B16","x":60,"y":490},{"l":"B16","x":190,"y":640},{"l":"B16","x":270,"y":790},{"l":"B16","x":335,"y":940},{"l":"B16","x":390,"y":1090},
{"l":"B17","x":-10,"y":470},{"l":"B17","x":70,"y":560},{"l":"B17","x":190,"y":745},{"l":"B17","x":250,"y":880},{"l":"B17","x":310,"y":1035},
{"l":"B18","x":5,"y":540},{"l":"B18","x":60,"y":640},{"l":"B18","x":170,"y":825},{"l":"B18","x":235,"y":985},
{"l":"B19","x":25,"y":633},{"l":"B19","x":60,"y":710},{"l":"B19","x":150,"y":900},
{"l":"top","x":-98,"y":229},{"l":"top","x":0,"y":280},{"l":"top","x":60,"y":305},{"l":"top","x":130,"y":325},{"l":"top","x":230,"y":320},{"l":"top","x":330,"y":295},{"l":"top","x":430,"y":265},{"l":"top","x":550,"y":235},{"l":"top","x":650,"y":218},{"l":"top","x":760,"y":207},{"l":"top","x":850,"y":200},{"l":"top","x":950,"y":195},{"l":"top","x":1050,"y":198},{"l":"top","x":1150,"y":205},{"l":"top","x":1240,"y":215},{"l":"top","x":1340,"y":232},{"l":"top","x":1430,"y":250},{"l":"top","x":1530,"y":270},
{"l":"bot","x":-98,"y":229},{"l":"bot","x":-25,"y":434},{"l":"bot","x":25,"y":633},{"l":"bot","x":75,"y":830},{"l":"bot","x":150,"y":900},{"l":"bot","x":235,"y":985},{"l":"bot","x":310,"y":1035},{"l":"bot","x":390,"y":1090},{"l":"bot","x":470,"y":1120},{"l":"bot","x":550,"y":1145},{"l":"bot","x":625,"y":1155},{"l":"bot","x":700,"y":1150},{"l":"bot","x":770,"y":1140},{"l":"bot","x":845,"y":1110},{"l":"bot","x":915,"y":1080},{"l":"bot","x":985,"y":1030},{"l":"bot","x":1055,"y":970},{"l":"bot","x":1125,"y":895},{"l":"bot","x":1195,"y":820},{"l":"bot","x":1260,"y":725},{"l":"bot","x":1330,"y":630},{"l":"bot","x":1395,"y":520},{"l":"bot","x":1465,"y":400},{"l":"bot","x":1530,"y":270}
],
"lobe":[
{"q":1,"x":485,"y":1075,"z":7},{"q":1,"x":530,"y":985,"z":7},{"q":1,"x":565,"y":930,"z":7},{"q":1,"x":1130,"y":930,"z":7},{"q":1,"x":1150,"y":950,"z":7},{"q":1,"x":850,"y":990,"z":7},{"q":1,"x":700,"y":1030,"z":7},
{"q":2,"x":565,"y":930,"z":6.9},{"q":2,"x":590,"y":905,"z":6.9},{"q":2,"x":1100,"y":905,"z":6.9},{"q":2,"x":1130,"y":930,"z":6.9},
{"q":3,"x":590,"y":905,"z":8},{"q":3,"x":610,"y":880,"z":8},{"q":3,"x":1070,"y":880,"z":8},{"q":3,"x":1100,"y":905,"z":8},
{"q":4,"x":610,"y":880,"z":18},{"q":4,"x":645,"y":850,"z":18},{"q":4,"x":1040,"y":850,"z":18},{"q":4,"x":1070,"y":880,"z":18},
{"q":5,"x":645,"y":850,"z":10},{"q":5,"x":680,"y":820,"z":10},{"q":5,"x":1005,"y":820,"z":10},{"q":5,"x":1040,"y":850,"z":10},
{"q":6,"x":680,"y":820,"z":11},{"q":6,"x":770,"y":778,"z":11},{"q":6,"x":860,"y":772,"z":11},{"q":6,"x":1000,"y":815,"z":11},{"q":6,"x":1005,"y":820,"z":11}
],
"lobeMesh":[
{"l":"a","x":485,"y":1075},{"l":"a","x":590,"y":1030},{"l":"a","x":710,"y":988},{"l":"a","x":800,"y":955},{"l":"a","x":900,"y":925},{"l":"a","x":1000,"y":905},{"l":"a","x":1100,"y":905},
{"l":"b","x":550,"y":965},{"l":"b","x":650,"y":945},{"l":"b","x":770,"y":905},{"l":"b","x":880,"y":885},{"l":"b","x":1000,"y":870},{"l":"b","x":1080,"y":870},
{"l":"c","x":620,"y":875},{"l":"c","x":720,"y":860},{"l":"c","x":850,"y":835},{"l":"c","x":950,"y":825},{"l":"c","x":1030,"y":830},
{"l":"d","x":690,"y":815},{"l":"d","x":790,"y":800},{"l":"d","x":900,"y":790},{"l":"d","x":950,"y":800},
{"l":"e","x":770,"y":778},{"l":"e","x":900,"y":810},{"l":"e","x":1050,"y":845},
{"l":"f","x":680,"y":820},{"l":"f","x":830,"y":850},{"l":"f","x":1000,"y":880},{"l":"f","x":1140,"y":940},
{"l":"g","x":630,"y":870},{"l":"g","x":780,"y":905},{"l":"g","x":950,"y":970},
{"l":"h","x":590,"y":920},{"l":"h","x":700,"y":945},{"l":"h","x":830,"y":990},
{"l":"i","x":550,"y":965},{"l":"i","x":700,"y":990},{"l":"i","x":760,"y":1005},
{"l":"j","x":510,"y":1020},{"l":"j","x":590,"y":1030},
{"l":"out","x":485,"y":1075},{"l":"out","x":530,"y":985},{"l":"out","x":600,"y":890},{"l":"out","x":680,"y":820},{"l":"out","x":770,"y":778},{"l":"out","x":860,"y":772},{"l":"out","x":1000,"y":815},
{"l":"low","x":485,"y":1075},{"l":"low","x":700,"y":1030},{"l":"low","x":850,"y":990},{"l":"low","x":1150,"y":950}
],
"floorPoly":[{"x":68,"y":97},{"x":1535,"y":370},{"x":412,"y":1260}],
"contours":[
{"l":"o","c":"orange","x":190,"y":505},{"l":"o","c":"orange","x":250,"y":540},{"l":"o","c":"orange","x":310,"y":590},{"l":"o","c":"orange","x":360,"y":660},{"l":"o","c":"orange","x":390,"y":740},{"l":"o","c":"orange","x":405,"y":830},{"l":"o","c":"orange","x":405,"y":950},{"l":"o","c":"orange","x":395,"y":1080},{"l":"o","c":"orange","x":385,"y":1165},
{"l":"g","c":"gold","x":155,"y":382},{"l":"g","c":"gold","x":250,"y":405},{"l":"g","c":"gold","x":340,"y":440},{"l":"g","c":"gold","x":420,"y":475},{"l":"g","c":"gold","x":480,"y":530},{"l":"g","c":"gold","x":515,"y":610},{"l":"g","c":"gold","x":525,"y":700},{"l":"g","c":"gold","x":515,"y":830},{"l":"g","c":"gold","x":490,"y":1010},{"l":"g","c":"gold","x":450,"y":1225},
{"l":"y1","c":"lime","x":545,"y":1145},{"l":"y1","c":"lime","x":610,"y":920},{"l":"y1","c":"lime","x":680,"y":720},{"l":"y1","c":"lime","x":750,"y":570},{"l":"y1","c":"lime","x":820,"y":480},{"l":"y1","c":"lime","x":900,"y":435},{"l":"y1","c":"lime","x":1000,"y":418},{"l":"y1","c":"lime","x":1150,"y":412},{"l":"y1","c":"lime","x":1300,"y":415},{"l":"y1","c":"lime","x":1470,"y":422},
{"l":"g1","c":"green","x":665,"y":1055},{"l":"g1","c":"green","x":740,"y":860},{"l":"g1","c":"green","x":830,"y":720},{"l":"g1","c":"green","x":930,"y":620},{"l":"g1","c":"green","x":1050,"y":560},{"l":"g1","c":"green","x":1180,"y":520},{"l":"g1","c":"green","x":1290,"y":505},{"l":"g1","c":"green","x":1375,"y":495},
{"l":"g2","c":"green","x":830,"y":925},{"l":"g2","c":"green","x":900,"y":820},{"l":"g2","c":"green","x":1000,"y":730},{"l":"g2","c":"green","x":1100,"y":660},{"l":"g2","c":"green","x":1230,"y":610},
{"l":"g3","c":"green","x":90,"y":150},{"l":"g3","c":"green","x":150,"y":143},{"l":"g3","c":"green","x":225,"y":128},
{"l":"g4","c":"green","x":110,"y":218},{"l":"g4","c":"green","x":200,"y":212},{"l":"g4","c":"green","x":300,"y":195},{"l":"g4","c":"green","x":415,"y":170},
{"l":"y2","c":"lime","x":130,"y":293},{"l":"y2","c":"lime","x":300,"y":297},{"l":"y2","c":"lime","x":420,"y":293},{"l":"y2","c":"lime","x":520,"y":285},{"l":"y2","c":"lime","x":610,"y":260},{"l":"y2","c":"lime","x":675,"y":218}
]
},
"layer":[
{"data":{"values":[
{"l":"t0","x":770,"y":184},{"l":"t0","x":1374,"y":211},
{"l":"t20","x":772,"y":243},{"l":"t20","x":1370,"y":275},
{"l":"t40","x":775,"y":303},{"l":"t40","x":1367,"y":337},
{"l":"t60","x":776,"y":362},{"l":"t60","x":1364,"y":400},
{"l":"t80","x":779,"y":422},{"l":"t80","x":1360,"y":462},
{"l":"t100","x":781,"y":482},{"l":"t100","x":1357,"y":521},
{"l":"v1","x":890,"y":189},{"l":"v1","x":896,"y":490},
{"l":"v2","x":1011,"y":195},{"l":"v2","x":1012,"y":498},
{"l":"v3","x":1132,"y":200},{"l":"v3","x":1127,"y":505},
{"l":"v4","x":1253,"y":206},{"l":"v4","x":1242,"y":513},
{"l":"r","x":1374,"y":211},{"l":"r","x":1352,"y":618}
]},"mark":{"type":"line","stroke":"#222222","strokeWidth":2.8},"encoding":{"x":{"field":"x","type":"quantitative","scale":{"domain":[0,1568],"nice":false,"zero":false},"axis":null},"y":{"field":"y","type":"quantitative","scale":{"domain":[803,0],"nice":false,"zero":false},"axis":null},"detail":{"field":"l"},"order":{"value":null}}},
{"data":{"values":[
{"l":"d1","x":770,"y":184},{"l":"d1","x":909,"y":301},{"l":"d1","x":1374,"y":211}
]},"mark":{"type":"line","stroke":"#555555","strokeWidth":2},"encoding":{"x":{"field":"x","type":"quantitative","scale":{"domain":[0,1568],"nice":false,"zero":false},"axis":null},"y":{"field":"y","type":"quantitative","scale":{"domain":[803,0],"nice":false,"zero":false},"axis":null},"detail":{"field":"l"},"order":{"value":null}}},
{"data":{"name":"floorPoly"},"mark":{"type":"line","interpolate":"linear-closed","fill":"#666666","stroke":"#000000","strokeWidth":4},"encoding":{"x":{"field":"x","type":"quantitative","scale":{"domain":[-1950,2089],"nice":false,"zero":false},"axis":null},"y":{"field":"y","type":"quantitative","scale":{"domain":[1557,-3600],"nice":false,"zero":false},"axis":null},"order":{"value":null}}},
{"data":{"name":"contours"},"mark":{"type":"line","interpolate":"catmull-rom","strokeWidth":6},"encoding":{"x":{"field":"x","type":"quantitative","scale":{"domain":[-1950,2089],"nice":false,"zero":false},"axis":null},"y":{"field":"y","type":"quantitative","scale":{"domain":[1557,-3600],"nice":false,"zero":false},"axis":null},"detail":{"field":"l"},"order":{"value":null},"color":{"field":"c","type":"nominal","scale":{"domain":["orange","gold","lime","green"],"range":["#ff8000","#ffc000","#b8ee00","#00ee00"]},"legend":null}}},
{"data":{"name":"lobe"},"mark":{"type":"line","interpolate":"linear-closed","strokeWidth":1.5},"encoding":{"x":{"field":"x","type":"quantitative","scale":{"domain":[-4500,5565],"nice":false,"zero":false},"axis":null},"y":{"field":"y","type":"quantitative","scale":{"domain":[2860,-510],"nice":false,"zero":false},"axis":null},"detail":{"field":"q"},"order":{"value":null},"fill":{"field":"z","type":"quantitative","scale":{"domain":[0,1,2,3,4,5,6,7,8,9,10,11,12,13,14,15,16,17,18],"range":["#fff080","#ffff40","#e8ff00","#c0ff00","#90ff20","#50ff50","#00ff40","#00dc00","#40b800","#a0a800","#c89800","#b86800","#b84000","#a01800","#e09000","#ffd000","#f8f000","#90c800","#c8d000"]},"legend":null},"stroke":{"field":"z","type":"quantitative","scale":{"domain":[0,1,2,3,4,5,6,7,8,9,10,11,12,13,14,15,16,17,18],"range":["#fff080","#ffff40","#e8ff00","#c0ff00","#90ff20","#50ff50","#00ff40","#00dc00","#40b800","#a0a800","#c89800","#b86800","#b84000","#a01800","#e09000","#ffd000","#f8f000","#90c800","#c8d000"]},"legend":null}}},
{"data":{"name":"lobeMesh"},"mark":{"type":"line","interpolate":"catmull-rom","stroke":"#1a1a1a","strokeWidth":2},"encoding":{"x":{"field":"x","type":"quantitative","scale":{"domain":[-4500,5565],"nice":false,"zero":false},"axis":null},"y":{"field":"y","type":"quantitative","scale":{"domain":[2860,-510],"nice":false,"zero":false},"axis":null},"detail":{"field":"l"},"order":{"value":null}}},
{"data":{"name":"underlay"},"mark":{"type":"line","interpolate":"linear-closed","fill":"#ffff70","stroke":null},"encoding":{"x":{"field":"x","type":"quantitative","scale":{"domain":[-2831,2168],"nice":false,"zero":false},"axis":null},"y":{"field":"y","type":"quantitative","scale":{"domain":[3357,-1800],"nice":false,"zero":false},"axis":null},"order":{"value":null}}},
{"data":{"name":"quads"},"mark":{"type":"line","interpolate":"linear-closed","strokeWidth":1.5},"encoding":{"x":{"field":"x","type":"quantitative","scale":{"domain":[-2831,2168],"nice":false,"zero":false},"axis":null},"y":{"field":"y","type":"quantitative","scale":{"domain":[3357,-1800],"nice":false,"zero":false},"axis":null},"detail":{"field":"q"},"order":{"value":null},"fill":{"field":"z","type":"quantitative","scale":{"domain":[0,1,2,3,4,5,6,7,8,9,10,11,12,13,14,15,16,17,18],"range":["#fff080","#ffff40","#e8ff00","#c0ff00","#90ff20","#50ff50","#00ff40","#00dc00","#40b800","#a0a800","#c89800","#b86800","#b84000","#a01800","#e09000","#ffd000","#f8f000","#90c800","#c8d000"]},"legend":null},"stroke":{"field":"z","type":"quantitative","scale":{"domain":[0,1,2,3,4,5,6,7,8,9,10,11,12,13,14,15,16,17,18],"range":["#fff080","#ffff40","#e8ff00","#c0ff00","#90ff20","#50ff50","#00ff40","#00dc00","#40b800","#a0a800","#c89800","#b86800","#b84000","#a01800","#e09000","#ffd000","#f8f000","#90c800","#c8d000"]},"legend":null}}},
{"data":{"name":"mesh"},"mark":{"type":"line","interpolate":"catmull-rom","stroke":"#1a1a1a","strokeWidth":2.2},"encoding":{"x":{"field":"x","type":"quantitative","scale":{"domain":[-2831,2168],"nice":false,"zero":false},"axis":null},"y":{"field":"y","type":"quantitative","scale":{"domain":[3357,-1800],"nice":false,"zero":false},"axis":null},"detail":{"field":"l"},"order":{"value":null}}},
{"data":{"values":[
{"l":"front","x":909,"y":301},{"l":"front","x":917,"y":757},
{"l":"axis","x":769,"y":184},{"l":"axis","x":784,"y":575}
]},"mark":{"type":"line","stroke":"#333333","strokeWidth":2.5,"opacity":0.75},"encoding":{"x":{"field":"x","type":"quantitative","scale":{"domain":[0,1568],"nice":false,"zero":false},"axis":null},"y":{"field":"y","type":"quantitative","scale":{"domain":[803,0],"nice":false,"zero":false},"axis":null},"detail":{"field":"l"},"order":{"value":null}}},
{"data":{"values":[{"l":"k","x":772,"y":152},{"l":"k","x":771,"y":243},{"l":"k","x":775,"y":303},{"l":"k","x":777,"y":362},{"l":"k","x":781,"y":482}]},"mark":{"type":"line","stroke":"#000000","strokeWidth":4},"encoding":{"x":{"field":"x","type":"quantitative","scale":{"domain":[0,1568],"nice":false,"zero":false},"axis":null},"y":{"field":"y","type":"quantitative","scale":{"domain":[803,0],"nice":false,"zero":false},"axis":null},"order":{"value":null}}},
{"data":{"values":[{"v":100,"x":769,"y":184},{"v":80,"x":772,"y":243},{"v":60,"x":774,"y":303},{"v":40,"x":776.5,"y":363},{"v":20,"x":778.5,"y":422},{"v":0,"x":780,"y":482}]},"mark":{"type":"point","filled":true,"color":"#000000","size":230,"opacity":1},"encoding":{"x":{"field":"x","type":"quantitative","scale":{"domain":[0,1568],"nice":false,"zero":false},"axis":null},"y":{"field":"y","type":"quantitative","scale":{"domain":[803,0],"nice":false,"zero":false},"axis":null}}},
{"data":{"values":[{"x":712,"x2":772,"y":137,"y2":152}]},"mark":{"type":"rect","fill":"white","stroke":"#111111","strokeWidth":2},"encoding":{"x":{"field":"x","type":"quantitative","scale":{"domain":[0,1568],"nice":false,"zero":false},"axis":null},"x2":{"field":"x2"},"y":{"field":"y","type":"quantitative","scale":{"domain":[803,0],"nice":false,"zero":false},"axis":null},"y2":{"field":"y2"}}},
{"data":{"values":[{"x":41,"x2":115,"y":49.5,"y2":70}]},"mark":{"type":"rect","stroke":"#333344","strokeWidth":2,"fill":{"gradient":"linear","x1":0,"y1":0,"x2":1,"y2":0,"stops":[{"offset":0,"color":"#0000ff"},{"offset":0.5,"color":"#00ff00"},{"offset":1,"color":"#ff0000"}]}},"encoding":{"x":{"field":"x","type":"quantitative","scale":{"domain":[0,1568],"nice":false,"zero":false},"axis":null},"x2":{"field":"x2"},"y":{"field":"y","type":"quantitative","scale":{"domain":[803,0],"nice":false,"zero":false},"axis":null},"y2":{"field":"y2"}}},
{"data":{"values":[{"t":"Component Coding: Actual","x":11,"y":14}]},"mark":{"type":"text","font":"DejaVu Sans","fontSize":39.4,"align":"left","baseline":"middle","color":"#222222"},"encoding":{"x":{"field":"x","type":"quantitative","scale":{"domain":[0,1568],"nice":false,"zero":false},"axis":null},"y":{"field":"y","type":"quantitative","scale":{"domain":[803,0],"nice":false,"zero":false},"axis":null},"text":{"field":"t"}}},
{"data":{"values":[{"t":"D = 0.00105","x":11,"y":126},{"t":"E = 0.146859","x":11,"y":148},{"t":"F = 0.000404","x":11,"y":171},{"t":"G = 0.010681","x":11,"y":193}]},"mark":{"type":"text","font":"DejaVu Sans","fontSize":37,"align":"left","baseline":"middle","color":"#222222"},"encoding":{"x":{"field":"x","type":"quantitative","scale":{"domain":[0,1568],"nice":false,"zero":false},"axis":null},"y":{"field":"y","type":"quantitative","scale":{"domain":[803,0],"nice":false,"zero":false},"axis":null},"text":{"field":"t"}}},
{"data":{"values":[{"t":"Response: Mud compaction\u00a0\u00a0(%)","x":11,"y":36},{"t":"Actual Components:","x":11,"y":104}]},"mark":{"type":"text","font":"DejaVu Sans","fontWeight":"bold","fontSize":36.8,"align":"left","baseline":"middle","color":"#111111"},"encoding":{"x":{"field":"x","type":"quantitative","scale":{"domain":[0,1568],"nice":false,"zero":false},"axis":null},"y":{"field":"y","type":"quantitative","scale":{"domain":[803,0],"nice":false,"zero":false},"axis":null},"text":{"field":"t"}}},
{"data":{"values":[{"t":"0","x":11,"y":58}]},"mark":{"type":"text","font":"DejaVu Sans","fontSize":37,"align":"left","baseline":"middle","color":"#2222ff"},"encoding":{"x":{"field":"x","type":"quantitative","scale":{"domain":[0,1568],"nice":false,"zero":false},"axis":null},"y":{"field":"y","type":"quantitative","scale":{"domain":[803,0],"nice":false,"zero":false},"axis":null},"text":{"field":"t"}}},
{"data":{"values":[{"t":"84","x":122,"y":58}]},"mark":{"type":"text","font":"DejaVu Sans","fontSize":37,"align":"left","baseline":"middle","color":"#ff2222"},"encoding":{"x":{"field":"x","type":"quantitative","scale":{"domain":[0,1568],"nice":false,"zero":false},"axis":null},"y":{"field":"y","type":"quantitative","scale":{"domain":[803,0],"nice":false,"zero":false},"axis":null},"text":{"field":"t"}}},
{"data":{"values":[{"t":"3D Surface","x":1095,"y":34}]},"mark":{"type":"text","font":"DejaVu Sans","fontSize":64,"align":"center","baseline":"middle","color":"#222222"},"encoding":{"x":{"field":"x","type":"quantitative","scale":{"domain":[0,1568],"nice":false,"zero":false},"axis":null},"y":{"field":"y","type":"quantitative","scale":{"domain":[803,0],"nice":false,"zero":false},"axis":null},"text":{"field":"t"}}},
{"data":{"values":[{"t":"36.7466","x":742.5,"y":144.5}]},"mark":{"type":"text","font":"DejaVu Sans","fontSize":28,"align":"center","baseline":"middle","color":"#222222"},"encoding":{"x":{"field":"x","type":"quantitative","scale":{"domain":[0,1568],"nice":false,"zero":false},"axis":null},"y":{"field":"y","type":"quantitative","scale":{"domain":[803,0],"nice":false,"zero":false},"axis":null},"text":{"field":"t"}}},
{"data":{"values":[{"t":"100","x":756,"y":173},{"t":"80","x":760,"y":233},{"t":"60","x":762,"y":293},{"t":"40","x":765,"y":352},{"t":"20","x":768,"y":412},{"t":"0","x":768,"y":471}]},"mark":{"type":"text","font":"DejaVu Sans","fontSize":36,"align":"right","baseline":"middle","color":"#222222"},"encoding":{"x":{"field":"x","type":"quantitative","scale":{"domain":[0,1568],"nice":false,"zero":false},"axis":null},"y":{"field":"y","type":"quantitative","scale":{"domain":[803,0],"nice":false,"zero":false},"axis":null},"text":{"field":"t"}}},
{"data":{"values":[{"t":"A (0.841006)","x":683.5,"y":558},{"t":"C (0.841006)","x":1477,"y":607},{"t":"B (0.841006)","x":833.5,"y":783},{"t":"C (0)","x":784,"y":670},{"t":"A (0)","x":1200,"y":700},{"t":"B (0)","x":1099,"y":577}]},"mark":{"type":"text","font":"DejaVu Sans","fontSize":53,"align":"center","baseline":"middle","color":"#222222"},"encoding":{"x":{"field":"x","type":"quantitative","scale":{"domain":[0,1568],"nice":false,"zero":false},"axis":null},"y":{"field":"y","type":"quantitative","scale":{"domain":[803,0],"nice":false,"zero":false},"axis":null},"text":{"field":"t"}}},
{"data":{"values":[{"t":"Mud compaction\u00a0\u00a0(%)","x":624,"y":368}]},"mark":{"type":"text","font":"Noto Sans","fontSize":41.5,"angle":270,"align":"center","baseline":"middle","color":"#222222"},"encoding":{"x":{"field":"x","type":"quantitative","scale":{"domain":[0,1568],"nice":false,"zero":false},"axis":null},"y":{"field":"y","type":"quantitative","scale":{"domain":[803,0],"nice":false,"zero":false},"axis":null},"text":{"field":"t"}}}
],
"resolve":{"scale":{"x":"independent","y":"independent"}}
}
